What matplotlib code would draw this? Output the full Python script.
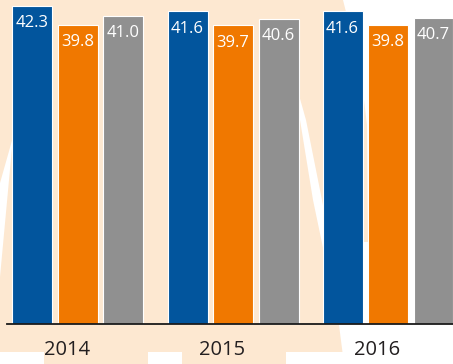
import matplotlib
matplotlib.use("Agg")
import matplotlib.pyplot as plt
from matplotlib.patches import Polygon, Rectangle
import numpy as np

plt.rcParams['font.family'] = ['Open Sans', 'DejaVu Sans']

years = ['2014', '2015', '2016']
series_a = [42.3, 41.6, 41.6]   # blue
series_b = [39.8, 39.7, 39.8]   # orange
series_c = [41.0, 40.6, 40.7]   # gray

colors = ['#02559D', '#F07800', '#909090']
peach = '#FDE8D1'

W, H = 453, 364
fig = plt.figure(figsize=(W / 100, H / 100), dpi=100)
fig.patch.set_facecolor('white')


def px(points):
    # pixel coords (origin top-left) -> figure fraction
    return [(x / W, 1 - y / H) for x, y in points]


# watermark shape in the background
fig.add_artist(Rectangle((0, 0), 1, 1, transform=fig.transFigure,
                         facecolor=peach, edgecolor='none', zorder=-2))
white_right = [(343, 0), (348, 20), (353, 45), (359, 75), (364, 100), (367, 125),
               (368, 242), (330, 242), (322, 200), (306, 120), (297, 88),
               (300, 120), (313, 200), (322, 243), (339, 325), (344, 364),
               (453, 364), (453, 0)]
white_left = [(0, 183), (13, 137), (0, 277)]
for shape in (white_right, white_left):
    fig.add_artist(Polygon(px(shape), closed=True, transform=fig.transFigure,
                           facecolor='white', edgecolor='none', zorder=-1))
for x0, x1 in [(0, 44), (148, 182), (286, 345)]:
    fig.add_artist(Polygon(px([(x0, 352), (x1, 352), (x1, 364), (x0, 364)]),
                           closed=True, transform=fig.transFigure,
                           facecolor='white', edgecolor='none', zorder=-1))

ax = fig.add_axes([0, 0, 1, 1])
ax.set_facecolor('none')

group_w = 155.0
width = 40 / group_w
step = 45.5 / group_w
x = np.arange(len(years))

for k, (vals, col) in enumerate(zip([series_a, series_b, series_c], colors)):
    pos = x + (k - 1) * step
    ax.bar(pos, vals, width=width, color=col, edgecolor='white', linewidth=0.8, zorder=2)
    for p, v in zip(pos, vals):
        ax.annotate(f'{v:.1f}', (p, v), xytext=(0, -12.5), textcoords='offset points',
                    ha='center', va='center', color='white', fontsize=12, zorder=3)

for i, yr in enumerate(years):
    ax.annotate(yr, (i, 0), xytext=(-8, -18.7), textcoords='offset points',
                ha='center', va='center', color='#231F20', fontsize=14.5)

ax.set_xlim(-78 / group_w, (W - 78) / group_w)
ax.set_ylim(-40 / 7.52, 324 / 7.52)
ax.axhline(0, xmin=7 / W, xmax=1, color='#1A1A1A', linewidth=1.3, zorder=4)

ax.set_xticks([])
ax.set_yticks([])
for s in ax.spines.values():
    s.set_visible(False)

fig.savefig('out.png', dpi=100)
